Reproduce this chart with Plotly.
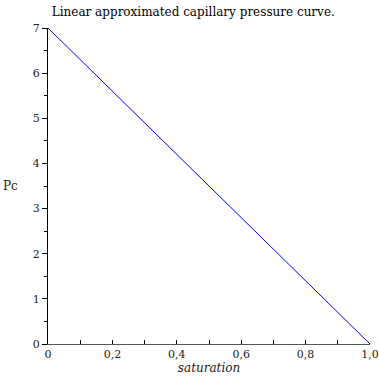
import plotly.graph_objects as go

saturation = [0.0, 1.0]
pc = [7.0, 0.0]
x_tickvals = [0, 0.2, 0.4, 0.6, 0.8, 1.0]
x_ticktext = ["0", "0,2", "0,4", "0,6", "0,8", "1,0"]
y_tickvals = [0, 1, 2, 3, 4, 5, 6, 7]
y_ticktext = ["0", "1", "2", "3", "4", "5", "6", "7"]

font = "DejaVu Serif, serif"

fig = go.Figure()
fig.add_trace(go.Scatter(x=saturation, y=pc, mode="lines",
                         line=dict(color="#0000ff", width=1), showlegend=False))

fig.update_layout(
    width=379, height=379,
    margin=dict(l=48, r=9, t=28, b=35),
    paper_bgcolor="white", plot_bgcolor="white",
    font=dict(family=font, size=12, color="#222222"),
    title=dict(text="Linear approximated capillary pressure curve.",
               x=0.51, xanchor="center", y=0.968, yanchor="middle",
               font=dict(family=font, size=12, color="black")),
)
fig.update_xaxes(
    range=[0, 1.0], showgrid=False, zeroline=False, automargin=False,
    showline=True, linecolor="#555555", linewidth=1,
    tickvals=x_tickvals, ticktext=x_ticktext, ticklabeloverflow="allow",
    ticks="inside", ticklen=4, tickcolor="black",
    minor=dict(tickvals=[0.1, 0.3, 0.5, 0.7, 0.9], ticks="inside", ticklen=4, tickcolor="black"),
    tickfont=dict(family=font, size=11),
    title=dict(text="<i>saturation</i>", font=dict(family=font, size=12), standoff=0),
)
fig.update_yaxes(
    range=[0, 7.0], showgrid=False, zeroline=False, automargin=False,
    showline=True, linecolor="black", linewidth=1,
    tickvals=y_tickvals, ticktext=y_ticktext, ticklabeloverflow="allow",
    ticks="outside", ticklen=5, tickcolor="black",
    minor=dict(tickvals=[0.5, 1.5, 2.5, 3.5, 4.5, 5.5, 6.5], ticks="outside", ticklen=3, tickcolor="black"),
    tickfont=dict(family=font, size=11),
    title=None,
)
fig.add_annotation(text="Pc", xref="paper", yref="paper", x=-0.118, y=0.5,
                   xanchor="center", yanchor="middle", showarrow=False,
                   font=dict(family=font, size=12))
fig.write_html("out.html")
